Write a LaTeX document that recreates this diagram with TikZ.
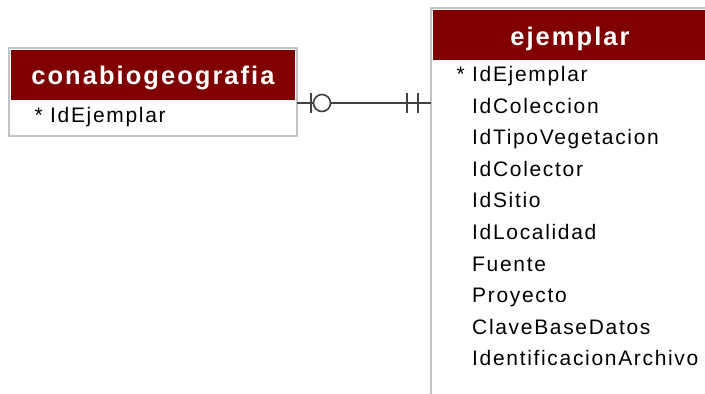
\documentclass[tikz,border=0pt]{standalone}
\usepackage{fontspec}
\setmainfont{Liberation Sans}
\newfontfamily\rowfont[LetterSpace=8]{Liberation Sans}
\newfontfamily\headfont[LetterSpace=8]{Liberation Sans}
\definecolor{hdr}{HTML}{800000}
\definecolor{brd}{HTML}{C4C4C4}
\definecolor{conn}{HTML}{404040}
\tikzset{
  x=1pt, y=1pt,
  boxborder/.style={draw=brd, line width=2pt},
  hdrfill/.style={fill=hdr, draw=none},
  title/.style={text=white, font=\headfont\bfseries\fontsize{25.5}{25.5}\selectfont, inner sep=0pt, anchor=base},
  row/.style={text=black, font=\rowfont\fontsize{21}{21}\selectfont, inner sep=0pt, anchor=base west},
  rel/.style={draw=conn, line width=1.6pt},
}
\begin{document}
\begin{tikzpicture}
\useasboundingbox (0,-394) rectangle (705,0);
% conabiogeografia table
\draw[boxborder] (9,-48) rectangle (297,-136);
\fill[hdrfill] (11,-50) rectangle (295,-100);
\node[title] (cTitle) at (153,-84) {conabiogeografia};
\node[row] (cR1) at (50,-122) {\llap{*\ }IdEjemplar};
\coordinate (cEdge) at (297,-103);
% ejemplar table
\draw[boxborder] (712,-8) -- (431,-8) -- (431,-400);
\fill[hdrfill] (433,-10) rectangle (706,-60);
\node[title] (eTitle) at (570,-45) {ejemplar};
\foreach \t [count=\i from 0] in {{\llap{*\ }IdEjemplar},IdColeccion,IdTipoVegetacion,IdColector,IdSitio,IdLocalidad,Fuente,Proyecto,ClaveBaseDatos,IdentificacionArchivo}{
  \node[row] (eR\i) at (472,{-81.5-31.6*\i}) {\t};
}
\coordinate (eEdge) at (431,-103);
% relationship
\draw[rel] (cEdge) -- (eEdge);
\draw[rel] ([xshift=14pt,yshift=10pt]cEdge) -- ([xshift=14pt,yshift=-10pt]cEdge);
\draw[rel, fill=white] ([xshift=25pt]cEdge) circle (8.5pt);
\draw[rel] ([xshift=-24pt,yshift=10pt]eEdge) -- ([xshift=-24pt,yshift=-10pt]eEdge);
\draw[rel] ([xshift=-13pt,yshift=10pt]eEdge) -- ([xshift=-13pt,yshift=-10pt]eEdge);
\end{tikzpicture}
\end{document}
